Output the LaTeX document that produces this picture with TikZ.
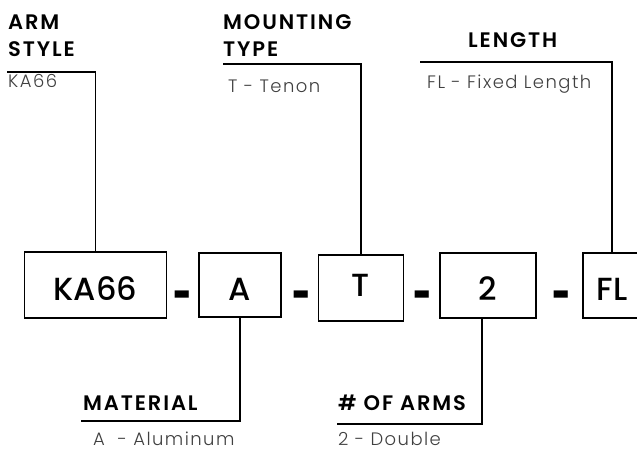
\documentclass[tikz,border=0pt]{standalone}
\usepackage{fontspec}
\setmainfont{Poppins}
\newfontfamily\headfont[LetterSpace=9]{Poppins SemiBold}
\newfontfamily\boxfont{Poppins Medium}
\newfontfamily\lightfont[LetterSpace=8]{Poppins Light}
\usetikzlibrary{positioning}

\begin{document}
\begin{tikzpicture}[x=1pt,y=-1pt,
    code box/.style={draw,line width=1.2pt,inner sep=0pt,text height=30pt,text depth=0pt,font=\boxfont\fontsize{32}{32}\selectfont},
    title/.style={anchor=base west,inner sep=0pt,align=left,font=\headfont\fontsize{21}{27}\selectfont},
    value/.style={anchor=base west,inner sep=0pt,text=black!75,font=\lightfont\fontsize{18}{18}\selectfont},
    sep/.style={inner sep=0pt,font=\bfseries\fontsize{32}{32}\selectfont},
    leader/.style={line width=1.2pt}]

  \useasboundingbox (0,0) rectangle (637,450);

  % Define code boxes
  \node[code box,minimum width=142pt,minimum height=66pt] (KA) at (95.5,285) {KA66};
  \node[code box,minimum width=82pt,minimum height=64pt] (MA) at (240,285) {A};
  \node[code box,minimum width=85pt,minimum height=66pt,text height=23pt,text depth=7pt] (TE) at (361,288) {T};
  \node[code box,minimum width=96pt,minimum height=65pt] (DO) at (488,285.5) {2};
  \node[code box,minimum width=58pt,minimum height=65pt] (FL) at (612,285.5) {FL};

  % Separators
  \node[sep] (s1) at (182.5,302) {\scalebox{1}[1.6]{-}};
  \node[sep] (s2) at (302,302) {\scalebox{1}[1.6]{-}};
  \node[sep] (s3) at (423,302) {\scalebox{1}[1.6]{-}};
  \node[sep] (s4) at (562,302) {\scalebox{1}[1.6]{-}};

  % Titles and values
  \node[title] (armT) at (8,56) {ARM\\STYLE};
  \node[value] (armV) at (8,87) {KA66};
  \node[title] (mntT) at (223,56) {MOUNTING\\TYPE};
  \node[value] (mntV) at (228,92) {T - Tenon};
  \node[title] (lenT) at (468,47) {LENGTH};
  \node[value] (lenV) at (427,88) {FL - Fixed Length};
  \node[title] (matT) at (83,410) {MATERIAL};
  \node[value] (matV) at (93,445) {A\ \ - Aluminum};
  \node[title] (numT) at (338,410) {\# OF ARMS};
  \node[value] (numV) at (338,445) {2 - Double};

  % Leader ends
  \coordinate (armEnd) at (7,72);
  \coordinate (mntEnd) at (223,64);
  \coordinate (lenEnd) at (420,62);
  \coordinate (matEnd) at (81,421);
  \coordinate (numEnd) at (337,424);
  \coordinate (numTurn) at (482,424);

  % Draw leaders
  \draw[leader] (KA.north) |- (armEnd);
  \draw[leader] (TE.north) |- (mntEnd);
  \draw[leader] (FL.north) |- (lenEnd);
  \draw[leader] (MA.south) |- (matEnd);
  \draw[leader] (numTurn |- DO.south) -- (numTurn) -- (numEnd);
\end{tikzpicture}
\end{document}
